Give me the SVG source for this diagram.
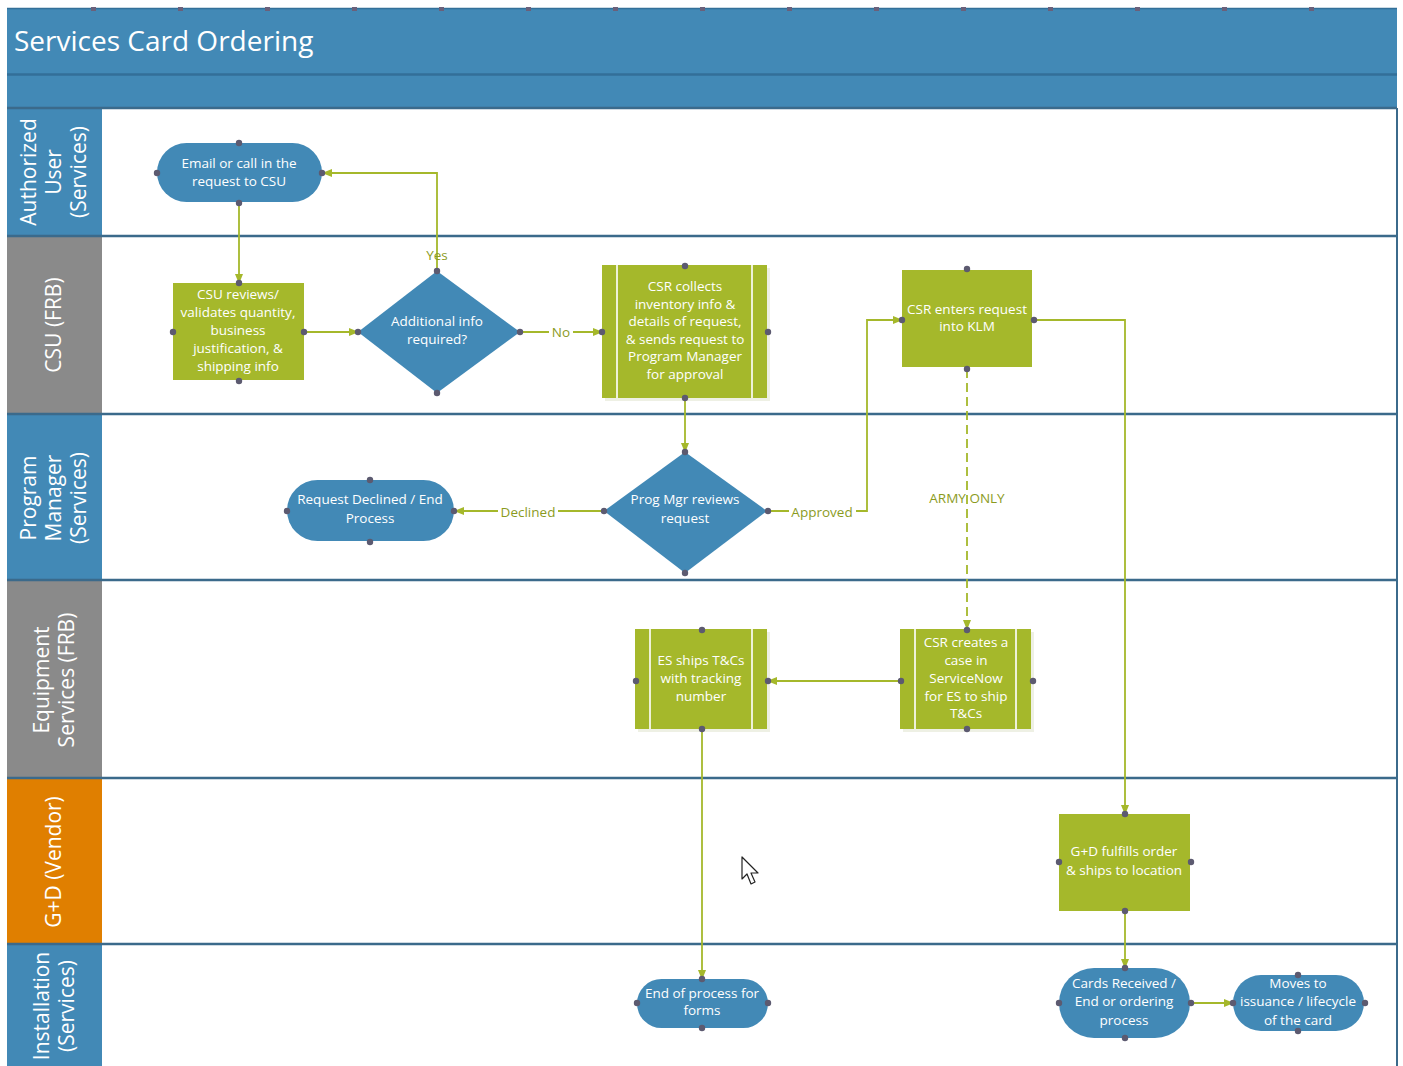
<svg xmlns="http://www.w3.org/2000/svg" width="1403" height="1066" viewBox="0 0 1403 1066">
<defs>
<style>
.t{font-family:"Open Sans","Noto Sans","DejaVu Sans",sans-serif;fill:#fff;text-anchor:middle;font-size:13.5px}
.lane{font-family:"Open Sans","Noto Sans","DejaVu Sans",sans-serif;fill:#fff;text-anchor:middle;font-size:21px}
.lbl{font-family:"Open Sans","Noto Sans","DejaVu Sans",sans-serif;fill:#8b9b1e;text-anchor:middle;font-size:13.5px}
.blue{fill:#4289b6}
.green{fill:#a5b82b}
.pl{stroke:#eef1d8;stroke-width:2}
.c{fill:none;stroke:#a5b82b;stroke-width:1.8}
.dot{fill:#5c5a70}
.sep{stroke:#3b6a8b;stroke-width:2.5}
</style>
<marker id="ah" markerWidth="10" markerHeight="10" refX="9" refY="5" orient="auto" markerUnits="userSpaceOnUse">
<path d="M0,1 L10,5 L0,9 Z" fill="#a5b82b"/>
</marker>
</defs>
<rect width="1403" height="1066" fill="#fff"/>
<g id="header">
<rect x="7" y="8" width="1390" height="100" fill="#4289b6"/>
<line x1="7" y1="74.5" x2="1397" y2="74.5" stroke="#336f98" stroke-width="2.5"/>
<line x1="7" y1="8.5" x2="1397" y2="8.5" stroke="#336f98" stroke-width="1.5"/>
<text x="14" y="51" font-family="'Open Sans','Noto Sans',sans-serif" font-size="28" fill="#fff">Services Card Ordering</text>
<g fill="#6a607a">
<rect x="91" y="7" width="5" height="4"/><rect x="178" y="7" width="5" height="4"/><rect x="265" y="7" width="5" height="4"/><rect x="352" y="7" width="5" height="4"/><rect x="439" y="7" width="5" height="4"/><rect x="526" y="7" width="5" height="4"/><rect x="613" y="7" width="5" height="4"/><rect x="700" y="7" width="5" height="4"/><rect x="787" y="7" width="5" height="4"/><rect x="874" y="7" width="5" height="4"/><rect x="961" y="7" width="5" height="4"/><rect x="1048" y="7" width="5" height="4"/><rect x="1135" y="7" width="5" height="4"/><rect x="1222" y="7" width="5" height="4"/><rect x="1309" y="7" width="5" height="4"/>
</g>
</g>
<g id="lanes">
<rect x="7" y="108" width="95" height="128" fill="#4289b6"/>
<rect x="7" y="236" width="95" height="178" fill="#8a8a8a"/>
<rect x="7" y="414" width="95" height="166" fill="#4289b6"/>
<rect x="7" y="580" width="95" height="198" fill="#8a8a8a"/>
<rect x="7" y="778" width="95" height="166" fill="#e07f00"/>
<rect x="7" y="944" width="95" height="122" fill="#4289b6"/>
<line x1="1397" y1="108" x2="1397" y2="1066" stroke="#3b6a8b" stroke-width="2"/>
<line class="sep" x1="7" y1="108" x2="1397" y2="108"/>
<line class="sep" x1="7" y1="236" x2="1397" y2="236"/>
<line class="sep" x1="7" y1="414" x2="1397" y2="414"/>
<line class="sep" x1="7" y1="580" x2="1397" y2="580"/>
<line class="sep" x1="7" y1="778" x2="1397" y2="778"/>
<line class="sep" x1="7" y1="944" x2="1397" y2="944"/>
<text class="lane" transform="translate(55,172) rotate(-90)"><tspan x="0" y="-19">Authorized</tspan><tspan x="0" y="6">User</tspan><tspan x="0" y="31">(Services)</tspan></text>
<text class="lane" transform="translate(55,325) rotate(-90)"><tspan x="0" y="6">CSU (FRB)</tspan></text>
<text class="lane" transform="translate(55,498) rotate(-90)"><tspan x="0" y="-19">Program</tspan><tspan x="0" y="6">Manager</tspan><tspan x="0" y="31">(Services)</tspan></text>
<text class="lane" transform="translate(55,680) rotate(-90)"><tspan x="0" y="-6">Equipment</tspan><tspan x="0" y="19">Services (FRB)</tspan></text>
<text class="lane" transform="translate(55,862) rotate(-90)"><tspan x="0" y="6">G+D (Vendor)</tspan></text>
<text class="lane" transform="translate(55,1006) rotate(-90)"><tspan x="0" y="-6">Installation</tspan><tspan x="0" y="19">(Services)</tspan></text>
</g>
<g id="connectors">
<path class="c" d="M239,203 V283" marker-end="url(#ah)"/>
<path class="c" d="M304,332 H358" marker-end="url(#ah)"/>
<path class="c" d="M437,271 V173 H323" marker-end="url(#ah)"/>
<path class="c" d="M520,332 H602" marker-end="url(#ah)"/>
<path class="c" d="M685,398 V452" marker-end="url(#ah)"/>
<path class="c" d="M604,511 H455" marker-end="url(#ah)"/>
<path class="c" d="M767,511 H867 V320 H902" marker-end="url(#ah)"/>
<path class="c" d="M967,369 V629" stroke-dasharray="9,5" marker-end="url(#ah)"/>
<path class="c" d="M1034,320 H1125 V814" marker-end="url(#ah)"/>
<path class="c" d="M900,681 H768" marker-end="url(#ah)"/>
<path class="c" d="M702,729 V979" marker-end="url(#ah)"/>
<path class="c" d="M1125,911 V968" marker-end="url(#ah)"/>
<path class="c" d="M1190,1003 H1233" marker-end="url(#ah)"/>
<text class="lbl" x="437" y="260">Yes</text>
<rect x="549" y="323" width="24" height="18" fill="#fff"/>
<text class="lbl" x="561" y="337">No</text>
<rect x="498" y="503" width="60" height="18" fill="#fff"/>
<text class="lbl" x="528" y="517">Declined</text>
<rect x="789" y="503" width="67" height="18" fill="#fff"/>
<text class="lbl" x="822" y="517">Approved</text>
<text class="lbl" x="967" y="503">ARMY ONLY</text>
</g>
<g id="n-email">
<rect class="blue" x="157" y="143" width="165" height="59" rx="29.5"/>
<text class="t"><tspan x="239" y="168">Email or call in the</tspan><tspan x="239" y="186">request to CSU</tspan></text>
<circle class="dot" cx="239" cy="143" r="3.2"/><circle class="dot" cx="239" cy="203" r="3.2"/><circle class="dot" cx="157" cy="173" r="3.2"/><circle class="dot" cx="322" cy="173" r="3.2"/>
</g>
<g id="n-csu-review">
<rect class="green" x="173" y="283" width="131" height="97"/>
<text class="t"><tspan x="238" y="299">CSU reviews/</tspan><tspan x="238" y="317">validates quantity,</tspan><tspan x="238" y="335">business</tspan><tspan x="238" y="353">justification, &amp;</tspan><tspan x="238" y="371">shipping info</tspan></text>
<circle class="dot" cx="239" cy="283" r="3.2"/><circle class="dot" cx="239" cy="381" r="3.2"/><circle class="dot" cx="173" cy="332" r="3.2"/><circle class="dot" cx="304" cy="332" r="3.2"/>
</g>
<g id="n-additional">
<polygon class="blue" points="437,271 520,332 437,393 358,332"/>
<text class="t"><tspan x="437" y="326">Additional info</tspan><tspan x="437" y="344">required?</tspan></text>
<circle class="dot" cx="437" cy="271" r="3.2"/><circle class="dot" cx="437" cy="393" r="3.2"/><circle class="dot" cx="358" cy="332" r="3.2"/><circle class="dot" cx="520" cy="332" r="3.2"/>
</g>
<g id="n-csr-collects">
<rect x="605" y="268" width="165" height="133" fill="#eef0e4"/>
<rect class="green" x="602" y="265" width="165" height="133"/>
<line class="pl" x1="617" y1="265" x2="617" y2="398"/><line class="pl" x1="752" y1="265" x2="752" y2="398"/>
<text class="t"><tspan x="685" y="291">CSR collects</tspan><tspan x="685" y="309">inventory info &amp;</tspan><tspan x="685" y="326">details of request,</tspan><tspan x="685" y="344">&amp; sends request to</tspan><tspan x="685" y="361">Program Manager</tspan><tspan x="685" y="379">for approval</tspan></text>
<circle class="dot" cx="685" cy="266" r="3.2"/><circle class="dot" cx="685" cy="398" r="3.2"/><circle class="dot" cx="602" cy="332" r="3.2"/><circle class="dot" cx="768" cy="332" r="3.2"/>
</g>
<g id="n-klm">
<rect class="green" x="902" y="270" width="130" height="97"/>
<text class="t"><tspan x="967" y="314">CSR enters request</tspan><tspan x="967" y="331">into KLM</tspan></text>
<circle class="dot" cx="967" cy="269" r="3.2"/><circle class="dot" cx="967" cy="369" r="3.2"/><circle class="dot" cx="902" cy="320" r="3.2"/><circle class="dot" cx="1034" cy="320" r="3.2"/>
</g>
<g id="n-progmgr">
<polygon class="blue" points="685,452 767,511 685,573 604,511"/>
<text class="t"><tspan x="685" y="504">Prog Mgr reviews</tspan><tspan x="685" y="523">request</tspan></text>
<circle class="dot" cx="685" cy="452" r="3.2"/><circle class="dot" cx="685" cy="573" r="3.2"/><circle class="dot" cx="604" cy="511" r="3.2"/><circle class="dot" cx="768" cy="511" r="3.2"/>
</g>
<g id="n-declined">
<rect class="blue" x="287" y="480" width="167" height="61" rx="30.5"/>
<text class="t"><tspan x="370" y="504">Request Declined / End</tspan><tspan x="370" y="523">Process</tspan></text>
<circle class="dot" cx="370" cy="480" r="3.2"/><circle class="dot" cx="370" cy="542" r="3.2"/><circle class="dot" cx="287" cy="511" r="3.2"/><circle class="dot" cx="454" cy="511" r="3.2"/>
</g>
<g id="n-csr-creates">
<rect x="903" y="632" width="131" height="100" fill="#eef0e4"/>
<rect class="green" x="900" y="629" width="131" height="100"/>
<line class="pl" x1="915" y1="629" x2="915" y2="729"/><line class="pl" x1="1016" y1="629" x2="1016" y2="729"/>
<text class="t"><tspan x="966" y="647">CSR creates a</tspan><tspan x="966" y="665">case in</tspan><tspan x="966" y="683">ServiceNow</tspan><tspan x="966" y="701">for ES to ship</tspan><tspan x="966" y="718">T&amp;Cs</tspan></text>
<circle class="dot" cx="967" cy="630" r="3.2"/><circle class="dot" cx="967" cy="729" r="3.2"/><circle class="dot" cx="901" cy="681" r="3.2"/><circle class="dot" cx="1033" cy="681" r="3.2"/>
</g>
<g id="n-es-ships">
<rect x="638" y="632" width="132" height="100" fill="#eef0e4"/>
<rect class="green" x="635" y="629" width="132" height="100"/>
<line class="pl" x1="650" y1="629" x2="650" y2="729"/><line class="pl" x1="752" y1="629" x2="752" y2="729"/>
<text class="t"><tspan x="701" y="665">ES ships T&amp;Cs</tspan><tspan x="701" y="683">with tracking</tspan><tspan x="701" y="701">number</tspan></text>
<circle class="dot" cx="702" cy="630" r="3.2"/><circle class="dot" cx="702" cy="729" r="3.2"/><circle class="dot" cx="636" cy="681" r="3.2"/><circle class="dot" cx="768" cy="681" r="3.2"/>
</g>
<g id="n-gd">
<rect class="green" x="1059" y="814" width="131" height="97"/>
<text class="t"><tspan x="1124" y="856">G+D fulfills order</tspan><tspan x="1124" y="875">&amp; ships to location</tspan></text>
<circle class="dot" cx="1125" cy="814" r="3.2"/><circle class="dot" cx="1125" cy="911" r="3.2"/><circle class="dot" cx="1059" cy="862" r="3.2"/><circle class="dot" cx="1191" cy="862" r="3.2"/>
</g>
<g id="n-end-forms">
<rect class="blue" x="637" y="979" width="131" height="49" rx="24.5"/>
<text class="t"><tspan x="702" y="998">End of process for</tspan><tspan x="702" y="1015">forms</tspan></text>
<circle class="dot" cx="702" cy="979" r="3.2"/><circle class="dot" cx="702" cy="1028" r="3.2"/><circle class="dot" cx="637" cy="1003" r="3.2"/><circle class="dot" cx="768" cy="1003" r="3.2"/>
</g>
<g id="n-cards">
<rect class="blue" x="1059" y="968" width="131" height="70" rx="35"/>
<text class="t"><tspan x="1124" y="988">Cards Received /</tspan><tspan x="1124" y="1006">End or ordering</tspan><tspan x="1124" y="1025">process</tspan></text>
<circle class="dot" cx="1125" cy="968" r="3.2"/><circle class="dot" cx="1125" cy="1038" r="3.2"/><circle class="dot" cx="1059" cy="1003" r="3.2"/><circle class="dot" cx="1191" cy="1003" r="3.2"/>
</g>
<g id="n-moves">
<rect class="blue" x="1233" y="975" width="131" height="56" rx="28"/>
<text class="t"><tspan x="1298" y="988">Moves to</tspan><tspan x="1298" y="1006">issuance / lifecycle</tspan><tspan x="1298" y="1025">of the card</tspan></text>
<circle class="dot" cx="1298" cy="975" r="3.2"/><circle class="dot" cx="1298" cy="1031" r="3.2"/><circle class="dot" cx="1233" cy="1003" r="3.2"/><circle class="dot" cx="1365" cy="1003" r="3.2"/>
</g>
<g id="cursor">
<path d="M742,857 L742,879 L747,874 L751,884 L755,882 L751,873 L758,873 Z" fill="#fff" stroke="#222" stroke-width="1.2" stroke-linejoin="round"/>
</g>
</svg>
